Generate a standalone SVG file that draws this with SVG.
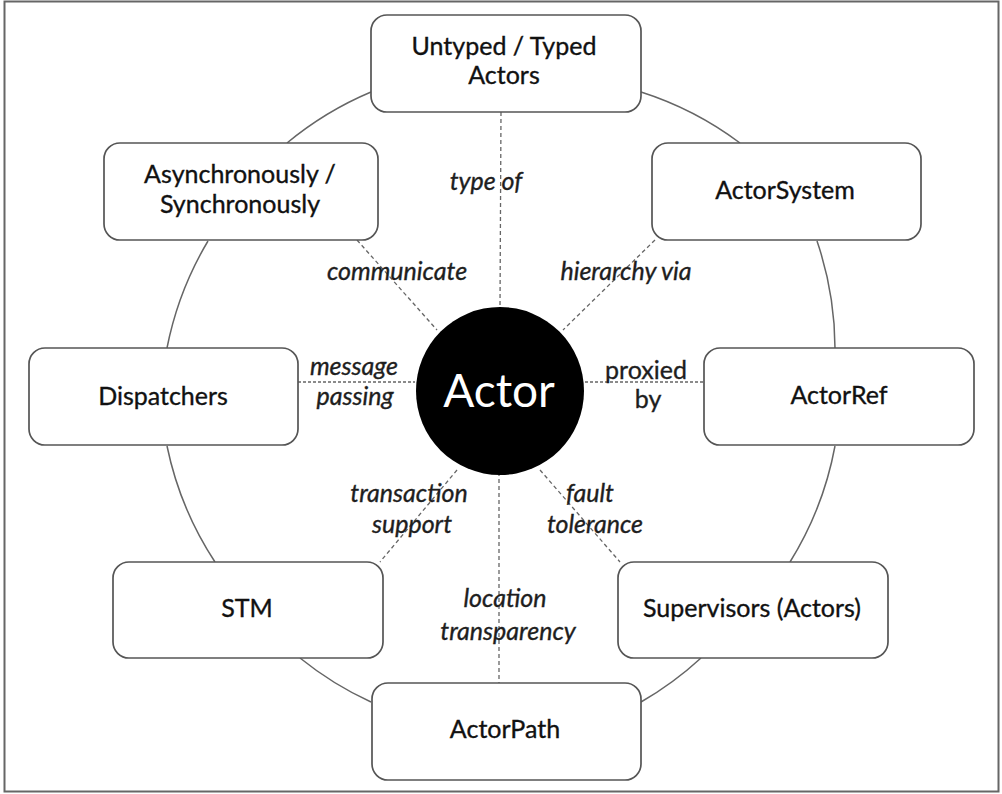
<svg xmlns="http://www.w3.org/2000/svg" width="1002" height="794" viewBox="0 0 1002 794">
<style>
.box{fill:#fff;stroke:#555;stroke-width:1.7}
.arc{fill:none;stroke:#666;stroke-width:1.5}
.sp{fill:none;stroke:#666;stroke-width:1.3;stroke-dasharray:4 3}
.spd{fill:none;stroke:#666;stroke-width:1.6;stroke-dasharray:3 2}
.t{font-family:Lato,"Noto Sans",sans-serif;font-size:25px;fill:#111;stroke:#111;stroke-width:0.35;text-anchor:middle}
.l{font-family:Lato,"Noto Sans",sans-serif;font-size:25px;font-style:italic;fill:#1e1e1e;stroke:#1e1e1e;stroke-width:0.35;text-anchor:middle}
.lr{font-family:Lato,"Noto Sans",sans-serif;font-size:25px;fill:#1e1e1e;stroke:#1e1e1e;stroke-width:0.35;text-anchor:middle}
</style>
<rect x="0" y="0" width="1002" height="794" fill="#fff"/>
<rect x="4.5" y="1.5" width="994" height="790" fill="none" stroke="#666" stroke-width="2"/>
<g id="connectors">
<path class="arc" d="M641,92 A335,335 0 0 1 740,143"/>
<path class="arc" d="M817,241 A335,335 0 0 1 835,348"/>
<path class="arc" d="M835,446 A335,335 0 0 1 790,562"/>
<path class="arc" d="M701,658 A335,335 0 0 1 641,702"/>
<path class="arc" d="M371,702 A335,335 0 0 1 300,658"/>
<path class="arc" d="M215,562 A335,335 0 0 1 167,446"/>
<path class="arc" d="M167,348 A335,335 0 0 1 208,241"/>
<path class="arc" d="M287,143 A335,335 0 0 1 371,92"/>
<line class="sp" x1="501" y1="112" x2="500" y2="308"/>
<line class="sp" x1="357" y1="240" x2="437" y2="330"/>
<line class="sp" x1="655" y1="240" x2="563" y2="330"/>
<line class="spd" x1="298" y1="382" x2="415" y2="382"/>
<line class="spd" x1="585" y1="382" x2="705" y2="382"/>
<line class="sp" x1="457" y1="470" x2="380" y2="562"/>
<line class="sp" x1="540" y1="470" x2="620" y2="562"/>
<line class="sp" x1="499" y1="472" x2="499" y2="683"/>
</g>
<g id="labels">
<text class="l" x="486" y="190">type of</text>
<text class="l" x="397" y="280">communicate</text>
<text class="l" x="626" y="280">hierarchy via</text>
<text class="l" x="354" y="375">message</text>
<text class="l" x="355" y="405">passing</text>
<text class="lr" x="646" y="379">proxied</text>
<text class="lr" x="648" y="408">by</text>
<text class="l" x="409" y="502">transaction</text>
<text class="l" x="412" y="533">support</text>
<text class="l" x="590" y="502">fault</text>
<text class="l" x="595" y="533">tolerance</text>
<text class="l" x="505" y="607">location</text>
<text class="l" x="508" y="640">transparency</text>
</g>
<g id="n-untyped">
<rect class="box" x="371" y="15" width="270" height="97" rx="16"/>
<text class="t" x="504" y="55">Untyped / Typed</text>
<text class="t" x="504" y="84">Actors</text>
</g>
<g id="n-async">
<rect class="box" x="104" y="143" width="274" height="97" rx="16"/>
<text class="t" x="240" y="183">Asynchronously /</text>
<text class="t" x="240" y="213">Synchronously</text>
</g>
<g id="n-actorsystem">
<rect class="box" x="652" y="143" width="269" height="97" rx="16"/>
<text class="t" x="785" y="199">ActorSystem</text>
</g>
<g id="n-dispatchers">
<rect class="box" x="29" y="348" width="269" height="97" rx="16"/>
<text class="t" x="163" y="405">Dispatchers</text>
</g>
<g id="n-actorref">
<rect class="box" x="704" y="348" width="270" height="97" rx="16"/>
<text class="t" x="839" y="404">ActorRef</text>
</g>
<g id="n-stm">
<rect class="box" x="113" y="562" width="270" height="96" rx="16"/>
<text class="t" x="247" y="617">STM</text>
</g>
<g id="n-supervisors">
<rect class="box" x="618" y="562" width="270" height="96" rx="16"/>
<text class="t" x="752" y="617">Supervisors (Actors)</text>
</g>
<g id="n-actorpath">
<rect class="box" x="372" y="683" width="269" height="97" rx="16"/>
<text class="t" x="505" y="738">ActorPath</text>
</g>
<g id="n-actor">
<circle cx="500" cy="391" r="84" fill="#000"/>
<text x="499" y="407" font-family="Lato,'Noto Sans',sans-serif" font-size="46" fill="#fff" text-anchor="middle">Actor</text>
</g>
</svg>
